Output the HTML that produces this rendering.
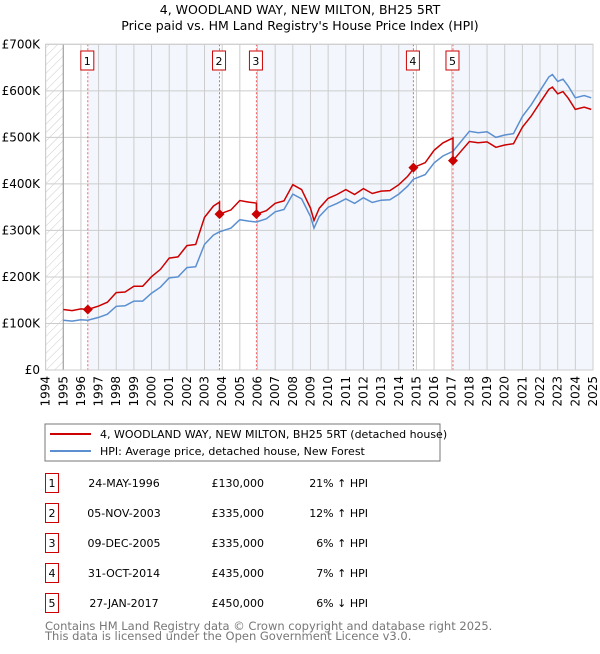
<!DOCTYPE html>
<html><head><meta charset="utf-8"><style>
body{margin:0;background:#fff;font-family:"DejaVu Sans","Liberation Sans",sans-serif;}
svg text{font-family:"DejaVu Sans","Liberation Sans",sans-serif;}
</style></head><body>
<svg id="c" width="600" height="650" xmlns="http://www.w3.org/2000/svg">
<defs><pattern id="hatch" width="6" height="6" patternUnits="userSpaceOnUse" patternTransform="rotate(45)"><line x1="0" y1="0" x2="0" y2="6" stroke="#ccc" stroke-width="1"/></pattern></defs>
<text x="300" y="14" text-anchor="middle" font-size="12.5">4, WOODLAND WAY, NEW MILTON, BH25 5RT</text>
<text x="300" y="30" text-anchor="middle" font-size="12.5">Price paid vs. HM Land Registry's House Price Index (HPI)</text>
<g id="plot"></g>
<rect x="45" y="424" width="395" height="37" fill="#fff" stroke="#777"/>
<line x1="50" y1="434" x2="91" y2="434" stroke="#cc0000" stroke-width="2"/>
<text x="100" y="438" font-size="11">4, WOODLAND WAY, NEW MILTON, BH25 5RT (detached house)</text>
<line x1="50" y1="451" x2="91" y2="451" stroke="#5b8fd0" stroke-width="2"/>
<text x="100" y="455" font-size="11">HPI: Average price, detached house, New Forest</text>
<g id="table" font-size="11"></g>
<text x="45" y="630" font-size="11.5" fill="#777">Contains HM Land Registry data © Crown copyright and database right 2025.</text>
<text x="45" y="640" font-size="11.5" fill="#777">This data is licensed under the Open Government Licence v3.0.</text>
</svg>
<script>
const hpiYears=[1995.0,1995.5,1996.0,1996.39,1997.0,1997.5,1998.0,1998.5,1999.0,1999.5,2000.0,2000.5,2001.0,2001.5,2002.0,2002.5,2003.0,2003.5,2003.85,2004.5,2005.0,2005.5,2005.94,2006.5,2007.0,2007.5,2008.0,2008.5,2009.0,2009.2,2009.5,2010.0,2010.5,2011.0,2011.5,2012.0,2012.5,2013.0,2013.5,2014.0,2014.5,2014.83,2015.5,2016.0,2016.5,2017.07,2017.5,2018.0,2018.5,2019.0,2019.5,2020.0,2020.5,2021.0,2021.5,2022.0,2022.5,2022.7,2023.0,2023.3,2023.6,2024.0,2024.5,2024.9];
const hpiValues=[107,105,108,107,113,120,137,138,148,148,165,178,198,200,220,222,270,290,297,305,323,320,318,325,340,345,378,368,330,305,330,350,358,368,358,370,360,365,366,378,395,410,420,445,460,470,490,513,510,512,500,505,508,545,570,600,630,635,620,625,610,585,590,585];
const saleDates=[1996.39,2003.85,2005.94,2014.83,2017.07];
const salePrices=[130,335,335,435,450];
const saleLabels=["24-MAY-1996","05-NOV-2003","09-DEC-2005","31-OCT-2014","27-JAN-2017"];
const salePriceText=["£130,000","£335,000","£335,000","£435,000","£450,000"];
const saleHpiText=["21% ↑ HPI","12% ↑ HPI","6% ↑ HPI","7% ↑ HPI","6% ↓ HPI"];
const yTicks=[0,100,200,300,400,500,600,700];
const yTickLabels=["£0","£100K","£200K","£300K","£400K","£500K","£600K","£700K"];
const NS="http://www.w3.org/2000/svg";
const X0=45.6,X1=593,Y0=370,Y1=44.3;
const sx=t=>X0+(t-1994)*(X1-X0)/31;
const sy=v=>Y0-v*(Y0-Y1)/700;
const g=document.getElementById('plot');
function mk(tag,at,parent){const e=document.createElementNS(NS,tag);for(const k in at)e.setAttribute(k,at[k]);(parent||g).appendChild(e);return e;}
function hpiAt(t){for(let i=0;i<hpiYears.length-1;i++){if(t<=hpiYears[i+1]){const f=(t-hpiYears[i])/(hpiYears[i+1]-hpiYears[i]);return hpiValues[i]+f*(hpiValues[i+1]-hpiValues[i]);}}return hpiValues[hpiValues.length-1];}
// shading
let bands=[[1995,saleDates[0],false]];
for(let i=0;i<saleDates.length;i++){bands.push([saleDates[i],i+1<saleDates.length?saleDates[i+1]:2025,i%2===0]);}
bands.forEach((b,i)=>{if(b[2]){const r=mk('rect',{x:sx(b[0]),y:Y1,width:sx(b[1])-sx(b[0]),height:Y0-Y1,fill:'#eef3fc',opacity:0.7});

}});
const h=mk('rect',{x:X0,y:Y1,width:sx(1995)-X0,height:Y0-Y1,fill:'url(#hatch)'});


// grid
for(let y=1994;y<=2025;y++){const l=mk('line',{x1:sx(y),x2:sx(y),y1:Y1,y2:Y0,stroke:'#ccc','stroke-width':1});


const tx=mk('text',{x:0,y:0,'font-size':12,'text-anchor':'end',transform:`translate(${sx(y)+4},376) rotate(-90)`});tx.textContent=y;

}
yTicks.forEach((v,i)=>{const l=mk('line',{x1:X0,x2:X1,y1:sy(v),y2:sy(v),stroke:'#ccc','stroke-width':1});


const t=mk('text',{x:40,y:sy(v)+4,'font-size':12,'text-anchor':'end'});t.textContent=yTickLabels[i];

});
const ax=mk('line',{x1:sx(1995),x2:sx(1995),y1:Y1,y2:Y0,stroke:'#999','stroke-width':1});


// sale markers vlines & boxes
saleDates.forEach((d,i)=>{const l=mk('line',{x1:sx(d),x2:sx(d),y1:Y1,y2:Y0,stroke:'#f06060','stroke-width':1,'stroke-dasharray':'2,2'});


const bx=sx(d)-19;
const r=mk('rect',{x:bx+12,y:51,width:13,height:19,fill:'#fff',stroke:'#cc0000'});


const t=mk('text',{x:bx+18.5,y:65,'font-size':11,'text-anchor':'middle'});t.textContent=i+1;

});
// HPI line
let pts=hpiYears.map((t,i)=>sx(t).toFixed(1)+','+sy(hpiValues[i]).toFixed(1)).join(' ');
const hl=mk('polyline',{points:pts,fill:'none',stroke:'#5b8fd0','stroke-width':1.5});


// price line: scaled by HPI from most recent sale
let rp=[];
function seg(t0,t1,base,baseT){const ts=[t0];hpiYears.forEach(t=>{if(t>t0&&t<t1)ts.push(t);});ts.push(t1);ts.forEach(t=>rp.push(sx(t).toFixed(1)+','+sy(base*hpiAt(t)/hpiAt(baseT)).toFixed(1)));}
seg(1995,saleDates[0],salePrices[0],saleDates[0]);
for(let i=0;i<saleDates.length;i++){const end=i+1<saleDates.length?saleDates[i+1]:hpiYears[hpiYears.length-1];seg(saleDates[i],end,salePrices[i],saleDates[i]);}
const pl=mk('polyline',{points:rp.join(' '),fill:'none',stroke:'#cc0000','stroke-width':1.5});


saleDates.forEach((d,i)=>{const x=sx(d),y=sy(salePrices[i]);const p=mk('polygon',{points:`${x},${y-5} ${x+5},${y} ${x},${y+5} ${x-5},${y}`,fill:'#cc0000'});

});
const fr=mk('rect',{x:X0,y:Y1,width:X1-X0,height:Y0-Y1,fill:'none',stroke:'#ccc'});


// table
const tb=document.getElementById('table');
saleDates.forEach((d,i)=>{const cy=483+30*i;
const r=mk('rect',{x:45.5,y:cy-9.5,width:13,height:19,fill:'#fff',stroke:'#cc0000'},tb);


const n=mk('text',{x:52,y:cy+4,'text-anchor':'middle'},tb);n.textContent=i+1;


const a=mk('text',{x:124,y:cy+4,'text-anchor':'middle'},tb);a.textContent=saleLabels[i];


const b=mk('text',{x:264,y:cy+4,'text-anchor':'end'},tb);b.textContent=salePriceText[i];


const c=mk('text',{x:368,y:cy+4,'text-anchor':'end'},tb);c.textContent=saleHpiText[i];

});
</script>
</body></html>
